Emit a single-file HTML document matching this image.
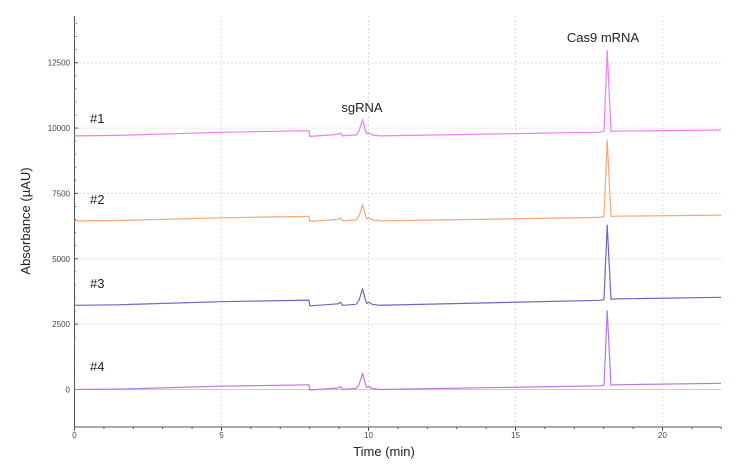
<!DOCTYPE html>
<html><head><meta charset="utf-8"><style>
body{margin:0;background:#fff}
svg{display:block;font-family:"Liberation Sans",sans-serif}
</style></head><body>
<svg width="750" height="476" xmlns="http://www.w3.org/2000/svg">
<rect width="750" height="476" fill="#fff"/>
<g stroke="#ddd" stroke-dasharray="2,2">
<line x1="75" x2="721" y1="62.7" y2="62.7"/>
<line x1="75" x2="721" y1="128.1" y2="128.1"/>
<line x1="75" x2="721" y1="193.4" y2="193.4"/>
<line x1="75" x2="721" y1="258.8" y2="258.8"/>
<line x1="75" x2="721" y1="324.1" y2="324.1"/>
<line x1="221.5" x2="221.5" y1="16" y2="427"/>
<line x1="368.5" x2="368.5" y1="16" y2="427"/>
<line x1="515.5" x2="515.5" y1="16" y2="427"/>
<line x1="662.5" x2="662.5" y1="16" y2="427"/>
</g>
<line x1="75" x2="721" y1="389.5" y2="389.5" stroke="#ccc"/>
<line x1="74.5" y1="16" x2="74.5" y2="427" stroke="#555"/>
<line x1="74.5" y1="427" x2="721" y2="427" stroke="#555"/>
<line x1="74.5" x2="76.5" y1="416.1" y2="16" stroke="#555" stroke-dasharray="1 12.072"/>
<line x1="74.5" y1="427" x2="722" y2="427" stroke="#555" stroke-width="0"/>
<g stroke="#555">
<line x1="74.5" x2="78" y1="62.7" y2="62.7"/><line x1="74.5" x2="78" y1="128.1" y2="128.1"/>
<line x1="74.5" x2="78" y1="193.4" y2="193.4"/><line x1="74.5" x2="78" y1="258.8" y2="258.8"/>
<line x1="74.5" x2="78" y1="324.1" y2="324.1"/><line x1="74.5" x2="78" y1="389.5" y2="389.5"/>
<line x1="221.5" x2="221.5" y1="427" y2="431"/><line x1="368.5" x2="368.5" y1="427" y2="431"/>
<line x1="515.5" x2="515.5" y1="427" y2="431"/><line x1="662.5" x2="662.5" y1="427" y2="431"/>
<line x1="74.5" x2="74.5" y1="427" y2="431"/>
</g>
<line x1="74" x2="722" y1="428" y2="428" stroke="#555" stroke-width="2" stroke-dasharray="1 28.4"/>
<g font-size="8" fill="#444" text-anchor="end">
<text x="70" y="65.7">12500</text><text x="70" y="131.1">10000</text><text x="70" y="196.4">7500</text>
<text x="70" y="261.8">5000</text><text x="70" y="327.1">2500</text><text x="70" y="392.5">0</text>
</g>
<g font-size="8" fill="#444" text-anchor="middle">
<text x="74.5" y="438">0</text><text x="221.5" y="438">5</text><text x="368.5" y="438">10</text>
<text x="515.5" y="438">15</text><text x="662.5" y="438">20</text>
</g>
<g fill="none" stroke-width="1.2" stroke-linejoin="round">
<path stroke="#f07ef0" d="M74.5 135.9 L118 135.4 L221 132.3 L309 130.7 L309.7 136.4 L325 135.4 L338 134.4 L340.6 132.9 L342.5 135.9 L356 134.9 L359 130.9 L362.6 119.4 L365.5 130.9 L367 133.9 L369 132.9 L372 134.9 L380 135.9 L600 132.2 L604 131 L607.2 50.7 L611 131.5 L615 131.2 L721 130"/>
<path stroke="#f5a878" d="M74.5 220.9 L118 220.5 L221 217.8 L309 216.4 L309.7 221.4 L325 220.4 L338 219.4 L340.6 217.9 L342.5 220.9 L356 219.9 L359 215.9 L362.6 204.7 L365.5 215.9 L367 218.9 L369 217.9 L372 219.9 L380 220.9 L600 217.4 L604 216.5 L607.2 140.1 L611 216.4 L615 216.2 L721 215.1"/>
<path stroke="#6a6ac0" d="M74.5 305.3 L118 304.8 L221 301.7 L309 300.1 L309.7 305.8 L325 304.8 L338 303.8 L340.6 302.3 L342.5 305.3 L356 304.3 L359 300.3 L362.6 288.7 L365.5 300.3 L367 303.3 L369 302.3 L372 304.3 L380 305.3 L600 300.3 L604 299.6 L607.2 225.1 L611 299.3 L615 298.9 L721 297.3"/>
<path stroke="#b878e0" d="M74.5 389.5 L118 389.1 L221 386.2 L309 384.8 L309.7 390 L325 389 L338 388 L340.6 386.5 L342.5 389.5 L356 388.5 L359 384.5 L362.6 373.3 L365.5 384.5 L367 387.5 L369 386.5 L372 388.5 L380 389.5 L600 385.8 L604 385.2 L607.2 310.7 L611 385.1 L615 384.8 L721 383.3"/>
</g>
<text x="384" y="456" font-size="13" text-anchor="middle" fill="#222">Time (min)</text>
<text transform="translate(30,221) rotate(-90)" font-size="13" text-anchor="middle" fill="#222">Absorbance (µAU)</text>
<g font-size="13" fill="#222">
<text x="90" y="123">#1</text>
<text x="90" y="204">#2</text>
<text x="90" y="288">#3</text>
<text x="90" y="371">#4</text>
<text x="362" y="112" text-anchor="middle">sgRNA</text>
<text x="603" y="42" text-anchor="middle">Cas9 mRNA</text>
</g>
</svg>
</body></html>
